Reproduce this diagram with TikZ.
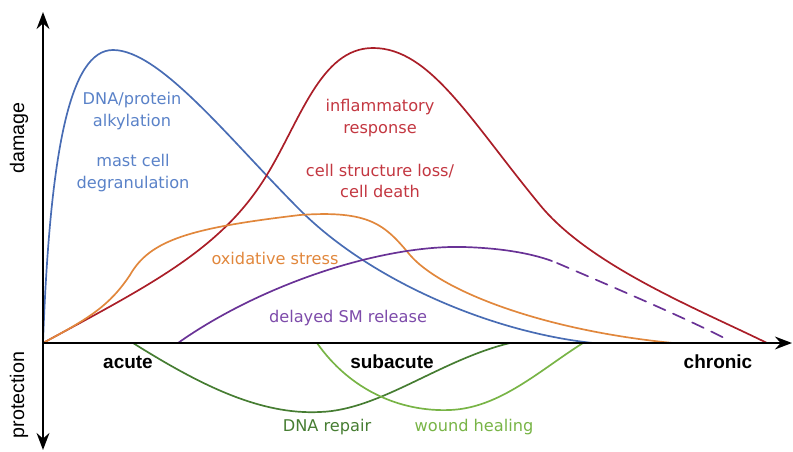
\documentclass[tikz,border=0pt]{standalone}
\usepackage{fontspec}
\setmainfont{DejaVu Sans}
\newfontfamily\axisfont{Liberation Sans}
\usepackage{tikz}
\usetikzlibrary{arrows.meta}
\usetikzlibrary{positioning}

\definecolor{alkblue}{RGB}{72,108,180}
\definecolor{alktext}{RGB}{90,130,200}
\definecolor{inflred}{RGB}{170,30,40}
\definecolor{infltext}{RGB}{195,55,65}
\definecolor{oxorange}{RGB}{225,135,60}
\definecolor{smpurple}{RGB}{105,50,150}
\definecolor{smtext}{RGB}{125,75,170}
\definecolor{repgreen}{RGB}{70,125,50}
\definecolor{healgreen}{RGB}{120,180,70}

\begin{document}
\begin{tikzpicture}[x=0.025cm,y=-0.025cm]
            \tikzset{every node/.style={align=center, font=\fontsize{11.5}{15}\selectfont},
                    >={Stealth[black]},
                    curve/.style={line width=1.2pt, line cap=round},
                    phase/.style={font=\axisfont\bfseries\fontsize{13.5}{15}\selectfont},
                    axislabel/.style={font=\axisfont\fontsize{14}{16}\selectfont, rotate=90}}
            \useasboundingbox (0,0) rectangle (793,452);
            \coordinate (O) at (43,343);
            \coordinate (top) at (43,12);
            \coordinate (bot) at (43,450);
            \coordinate (right) at (792,343);
            % curves
            \draw[curve, alkblue] (O) .. controls (50,150) and (70,50) .. (113,50)
                .. controls (160,50) and (230,140) .. (300,210)
                .. controls (370,280) and (490,332) .. (593,343);
            \draw[curve, inflred] (O) .. controls (150,285) and (220,250) .. (265,178)
                .. controls (300,122) and (320,48) .. (373,48)
                .. controls (430,48) and (470,120) .. (540,205)
                .. controls (590,266) and (700,310) .. (767,343);
            \draw[curve, oxorange] (O) .. controls (90,318) and (110,305) .. (130,275)
                .. controls (150,240) and (190,228) .. (300,215)
                .. controls (370,210) and (385,225) .. (410,255)
                .. controls (440,290) and (540,330) .. (673,343);
            \draw[curve, smpurple] (178,343) .. controls (260,285) and (380,245) .. (463,247)
                .. controls (500,248) and (530,253) .. (552,261);
            \draw[curve, smpurple, dash pattern=on 9pt off 6pt] (557,263) .. controls (620,290) and (690,320) .. (730,341);
            \draw[curve, repgreen] (133,343) .. controls (200,385) and (260,415) .. (320,412)
                .. controls (380,410) and (440,360) .. (510,343);
            \draw[curve, healgreen] (317,343) .. controls (350,390) and (400,412) .. (450,410)
                .. controls (500,408) and (540,370) .. (583,343);
            % axes
            \draw[->, line width=2pt] (O) -- (top);
            \draw[->, line width=2pt] (O) -- (bot);
            \draw[->, line width=2pt] (O) -- (right);
            % labels
            \node[alktext] (dnaprot) at (132,111) {DNA/protein\\alkylation};
            \node[alktext] (mast) at (133,173) {mast cell\\degranulation};
            \node[infltext] (infl) at (380,118) {inflammatory\\response};
            \node[infltext] (death) at (380,181) {cell structure loss/\\cell death};
            \node[oxorange] (ox) at (275,258) {oxidative stress};
            \node[smtext] (sm) at (348,318) {delayed SM release};
            \node[repgreen] (repair) at (327,427) {DNA repair};
            \node[healgreen] (heal) at (474,427) {wound healing};
            \node[phase] (acute) at (128,362) {acute};
            \node[phase] (subacute) at (392,362) {subacute};
            \node[phase] (chronic) at (718,362) {chronic};
            \node[axislabel] (damage) at (19,138) {damage};
            \node[axislabel] (protect) at (19,395) {protection};
        \end{tikzpicture}
\end{document}
